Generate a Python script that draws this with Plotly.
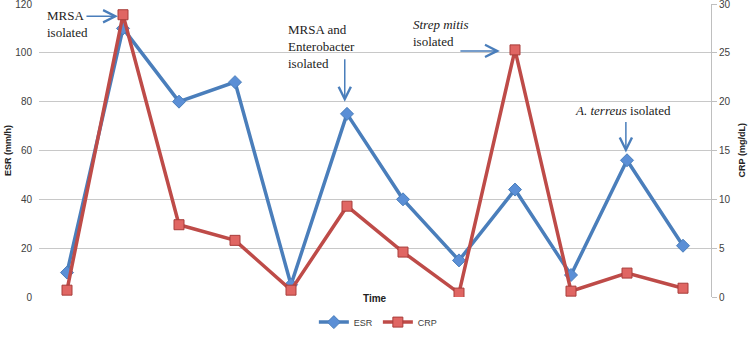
import plotly.graph_objects as go

time_points = list(range(1, 13))
esr_values = [10, 110, 80, 88, 5, 75, 40, 15, 44, 9, 56, 21]
crp_values = [0.7, 28.9, 7.4, 5.8, 0.7, 9.3, 4.6, 0.4, 25.3, 0.6, 2.45, 0.9]
esr_ticks = [0, 20, 40, 60, 80, 100, 120]
crp_ticks = [0, 5, 10, 15, 20, 25, 30]

BLUE = "#4a7ebb"
RED = "#be4b48"
SERIF = "Liberation Serif"
SANS = "Liberation Sans"

fig = go.Figure()
fig.add_trace(go.Scatter(
    x=time_points, y=esr_values, name="ESR", mode="lines+markers",
    line=dict(color=BLUE, width=3.5),
    marker=dict(symbol="diamond", size=10, color="#5b8fd6", line=dict(color=BLUE, width=1)),
    yaxis="y"))
fig.add_trace(go.Scatter(
    x=time_points, y=crp_values, name="CRP", mode="lines+markers",
    line=dict(color=RED, width=3.5),
    marker=dict(symbol="square", size=10, color="#e06663", line=dict(color="#a83d3a", width=1)),
    yaxis="y2"))

fig.update_layout(
    width=750, height=339,
    margin=dict(l=39, r=39, t=4, b=41),
    paper_bgcolor="white", plot_bgcolor="white",
    showlegend=True,
    legend=dict(orientation="h", x=0.505, xanchor="center", y=-0.082, yanchor="middle",
                font=dict(family=SANS, size=9, color="#404040"),
                tracegroupgap=0),
    xaxis=dict(range=[0.5, 12.5], showticklabels=False, showgrid=False, zeroline=False,
               showline=False, ticks="", automargin=False),
    yaxis=dict(range=[0, 120], tickvals=esr_ticks, showgrid=True, gridcolor="#c8c8c8",
               gridwidth=1, zeroline=False, showline=False, automargin=False,
               ticklabeloverflow="allow",
               tickfont=dict(family=SANS, size=10, color="#404040"),
               ticklabelstandoff=6),
    yaxis2=dict(range=[0, 30], tickvals=crp_ticks, overlaying="y", side="right",
                showgrid=False, zeroline=False, showline=True, linecolor="#bfbfbf", linewidth=1,
                ticks="outside", ticklen=5, tickcolor="#bfbfbf", automargin=False,
                ticklabeloverflow="allow",
                tickfont=dict(family=SANS, size=10, color="#404040")),
)

fig.add_annotation(text="<b>Time</b>", xref="paper", yref="paper", x=0.5, y=-0.03,
                   showarrow=False, font=dict(family=SANS, size=10, color="#222"))
fig.add_annotation(text="<b>ESR (mm/h)</b>", xref="paper", yref="paper", x=-0.047, y=0.5,
                   xanchor="center", yanchor="middle", textangle=-90, showarrow=False,
                   font=dict(family=SANS, size=9, color="#222"))
fig.add_annotation(text="<b>CRP (mg/dL)</b>", xref="paper", yref="paper", x=1.046, y=0.5,
                   xanchor="center", yanchor="middle", textangle=-90, showarrow=False,
                   font=dict(family=SANS, size=9, color="#222"))

# text annotations
texts = [
    ("MRSA<br>isolated", 1.0, 112, "left"),
    ("MRSA and<br>Enterobacter<br>isolated", 5.55, 102.4, "left"),
    ("<i>Strep mitis</i><br>isolated", 7.68, 108, "left"),
    ("<i>A. terreus</i> isolated", 10.93, 76.3, "center"),
]
for t, x, y, al in texts:
    fig.add_annotation(text=t, x=x, y=y, xref="x", yref="y", showarrow=False, align=al,
                       font=dict(family=SERIF, size=13, color="#222"))

# arrows
arrows = [
    (1.91, 115, -33, 0),
    (5.96, 80, 0, -44),
    (8.73, 100.8, -41, 0),
    (10.98, 59.2, 0, -32),
]
for x, y, ax, ay in arrows:
    fig.add_annotation(text="", x=x, y=y, xref="x", yref="y", ax=ax, ay=ay,
                       showarrow=True, arrowhead=5, arrowsize=1.6, arrowwidth=1.5,
                       arrowcolor=BLUE)

fig.write_html("out.html", config={"displayModeBar": False},
               post_script="document.body.style.margin='0';")
